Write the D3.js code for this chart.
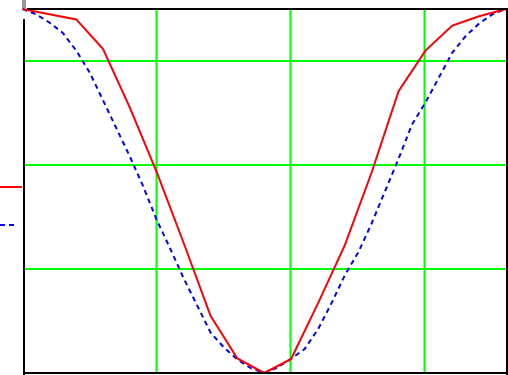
<!DOCTYPE html>
<html>
<head>
    <style>
        body { margin: 0; background: #fff; }
        svg { display: block; }
    </style>
    <script src="https://d3js.org/d3.v7.min.js"></script>
</head>
<body>
    <svg width="508" height="375"></svg>
    <script>
        // coarse series (solid red)
        const redX = [0, 0.2, 0.4, 0.6, 0.8, 1.0, 1.2, 1.4, 1.6, 1.8, 2.0, 2.2, 2.4, 2.6, 2.8, 3.0, 3.2, 3.4, 3.6];
        const redY = [3.50, 3.45, 3.40, 3.115, 2.55, 1.93, 1.25, 0.55, 0.14, 0.0, 0.135, 0.67, 1.23, 1.93, 2.71, 3.10, 3.34, 3.43, 3.50];

        // fine series (dashed blue)
        const blueX = [0, 0.1, 0.2, 0.3, 0.4, 0.5, 0.6, 0.7, 0.8, 0.9, 1.0, 1.1, 1.2, 1.3, 1.4, 1.5, 1.6, 1.7, 1.8,
                       1.9, 2.0, 2.1, 2.2, 2.3, 2.4, 2.5, 2.6, 2.7, 2.8, 2.9, 3.0, 3.1, 3.2, 3.3, 3.4, 3.5, 3.6];
        const blueY = [3.50, 3.45, 3.37, 3.27, 3.10, 2.89, 2.62, 2.35, 2.08, 1.79, 1.47, 1.195, 0.91, 0.65, 0.39, 0.245, 0.13, 0.046, 0.0,
                       0.053, 0.137, 0.23, 0.42, 0.67, 0.94, 1.16, 1.44, 1.75, 2.06, 2.39, 2.60, 2.84, 3.08, 3.24, 3.36, 3.45, 3.50];

        const xGrid = [1, 2, 3];
        const yGrid = [1, 2, 3];

        const svg = d3.select("svg");

        const x = d3.scaleLinear().domain([0, 3.6]).range([22.5, 506]);
        const y = d3.scaleLinear().domain([0, 3.5]).range([373, 9]);

        // Grid
        svg.selectAll(".vgrid")
            .data(xGrid)
            .enter()
            .append("line")
            .attr("x1", d => Math.round(x(d)) - 0.5)
            .attr("x2", d => Math.round(x(d)) - 0.5)
            .attr("y1", 9)
            .attr("y2", 373)
            .attr("stroke", "#00ff00")
            .attr("stroke-width", 2);

        svg.selectAll(".hgrid")
            .data(yGrid)
            .enter()
            .append("line")
            .attr("x1", 24)
            .attr("x2", 507)
            .attr("y1", d => Math.round(y(d)))
            .attr("y2", d => Math.round(y(d)))
            .attr("stroke", "#00ff00")
            .attr("stroke-width", 2);

        // Curves
        const line = d3.line()
            .x(d => x(d[0]))
            .y(d => y(d[1]));

        svg.append("path")
            .datum(blueX.map((v, i) => [v, blueY[i]]))
            .attr("d", line)
            .attr("fill", "none")
            .attr("stroke", "#0000ff")
            .attr("stroke-width", 2)
            .attr("stroke-dasharray", "5,4");

        svg.append("path")
            .datum(redX.map((v, i) => [v, redY[i]]))
            .attr("d", line)
            .attr("fill", "none")
            .attr("stroke", "#ff0000")
            .attr("stroke-width", 2);

        // Frame
        const frame = [
            [27, 9, 508, 9],
            [24, 19, 24, 375],
            [23, 373, 508, 373],
            [507, 8, 507, 375]
        ];
        svg.selectAll(".frame")
            .data(frame)
            .enter()
            .append("line")
            .attr("x1", d => d[0])
            .attr("y1", d => d[1])
            .attr("x2", d => d[2])
            .attr("y2", d => d[3])
            .attr("stroke", "#000")
            .attr("stroke-width", 2);

        // small marker top-left
        svg.append("rect")
            .attr("x", 22).attr("y", 0)
            .attr("width", 4).attr("height", 8)
            .attr("fill", "#9a9a9a");

        // Legend traces
        svg.append("line")
            .attr("x1", 0).attr("x2", 22)
            .attr("y1", 187).attr("y2", 187)
            .attr("stroke", "#ff0000").attr("stroke-width", 2);

        svg.append("line")
            .attr("x1", 0).attr("x2", 16)
            .attr("y1", 225).attr("y2", 225)
            .attr("stroke", "#0000ff").attr("stroke-width", 2)
            .attr("stroke-dasharray", "5,4");
    </script>
</body>
</html>
